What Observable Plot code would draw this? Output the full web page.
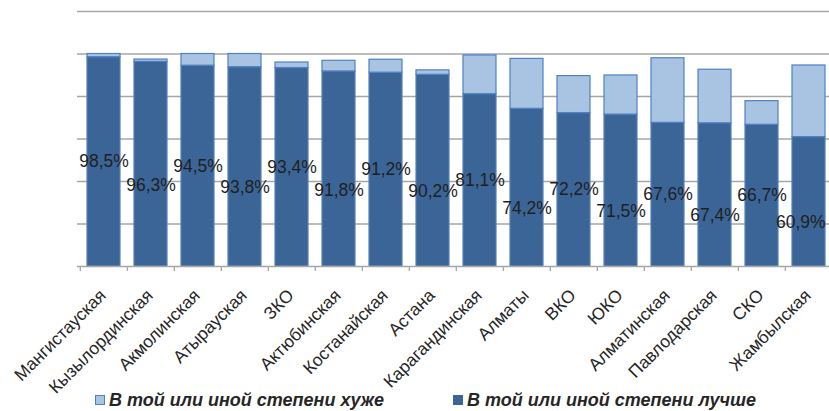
<!DOCTYPE html>
<html>
<head>
<meta charset="utf-8">
<script src="https://cdn.jsdelivr.net/npm/d3@7"></script>
<script src="https://cdn.jsdelivr.net/npm/@observablehq/plot@0.6"></script>
<style>
  html, body { margin: 0; padding: 0; background: #fff; overflow: hidden; }
  body { width: 829px; height: 411px; font-family: "Liberation Sans", Arial, sans-serif; }
  #chart svg { display: block; overflow: visible; }
  #legend { position: relative; height: 25px; font-family: "Liberation Sans", Arial, sans-serif;
            font-weight: bold; font-style: italic; font-size: 18px; color: #262626; }
  .item { position: absolute; top: 4px; white-space: nowrap; line-height: 20px; }
  .sw { display: inline-block; width: 8px; height: 8px; margin-right: 4px; vertical-align: 1px; }
</style>
</head>
<body>
<div id="chart"></div>
<div id="legend"></div>
<script>
const categories = ["Мангистауская","Кызылординская","Акмолинская","Атырауская","ЗКО","Актюбинская","Костанайская","Астана","Карагандинская","Алматы","ВКО","ЮКО","Алматинская","Павлодарская","СКО","Жамбылская"];
const better = [98.5,96.3,94.5,93.8,93.4,91.8,91.2,90.2,81.1,74.2,72.2,71.5,67.6,67.4,66.7,60.9];
const worse = [1.5,1.1,5.5,6.2,2.6,5.0,6.1,2.1,18.2,23.5,17.4,18.4,30.4,25.2,11.1,33.7];
const seriesNames = ["В той или иной степени хуже", "В той или иной степени лучше"];
const gridTicks = [20, 40, 60, 80, 100, 120];

const colors = { better: "#3B6597", worse: "#A9C3E3" };

const rows = [];
categories.forEach((c, i) => {
  rows.push({ region: c, series: "better", value: better[i] });
  rows.push({ region: c, series: "worse", value: worse[i] });
});
const n = categories.length;
const labels = categories.map((c, i) => ({ region: c, value: better[i], i }));
const fmt = d => d.value.toFixed(1).replace(".", ",") + "%";

const step = (835 - 77) / n;
const bandwidth = step * 0.7;
const labelStyle = { x: "region", y: d => d.value / 2, text: fmt, fontSize: 17.5, fill: "#1f1f1f", lineAnchor: "middle" };

const chart = Plot.plot({
  width: 829,
  height: 386,
  marginTop: 11,
  marginBottom: 120,
  marginLeft: 77,
  marginRight: 0,
  style: { fontFamily: "Liberation Sans, Arial, sans-serif", background: "#fff" },
  x: { domain: categories, range: [77, 835], paddingInner: 0.3, paddingOuter: 0.15, axis: null, label: null },
  y: { domain: [0, 120], axis: null, label: null },
  color: { domain: ["better", "worse"], range: [colors.better, colors.worse] },
  marks: [
    Plot.ruleY(gridTicks, { stroke: "#A6A6A6", strokeWidth: 1.3 }),
    Plot.barY(rows, {
      x: "region", y: "value", fill: "series", order: ["better", "worse"],
      stroke: d => d.series === "better" ? "#5680B8" : "#4F81C4", strokeWidth: 1.2
    }),
    Plot.ruleY([0], { stroke: "#A6A6A6", strokeWidth: 1.3 }),
    Plot.axisX({ tickSize: 5, tickFormat: () => "", label: null, dx: -step / 2, stroke: "#A6A6A6", strokeWidth: 1.3 }),
    Plot.text(labels.filter(d => d.i % 2 === 0), labelStyle),
    Plot.text(labels.filter(d => d.i % 2 === 1 && d.i < n - 1), { ...labelStyle, dy: 21 }),
    // last label is kept inside the picture's right edge
    Plot.text(labels.filter(d => d.i === n - 1), { ...labelStyle, dy: 21, textAnchor: "end", dx: bandwidth / 2 }),
    Plot.text(categories, {
      x: d => d, frameAnchor: "bottom", text: d => d, rotate: -45, textAnchor: "end",
      lineAnchor: "middle", fontSize: 17.5, fill: "#262626", dx: -1, dy: 26
    })
  ]
});
document.getElementById("chart").appendChild(chart);

const legend = document.getElementById("legend");
const items = [
  { name: seriesNames[0], fill: colors.worse, border: "#4F81C4", left: 95 },
  { name: seriesNames[1], fill: colors.better, border: colors.better, left: 453 }
];
items.forEach(it => {
  const div = document.createElement("div");
  div.className = "item";
  div.style.left = it.left + "px";
  const sw = document.createElement("span");
  sw.className = "sw";
  sw.style.background = it.fill;
  sw.style.border = "1px solid " + it.border;
  div.appendChild(sw);
  div.appendChild(document.createTextNode(it.name));
  legend.appendChild(div);
});
</script>
</body>
</html>
